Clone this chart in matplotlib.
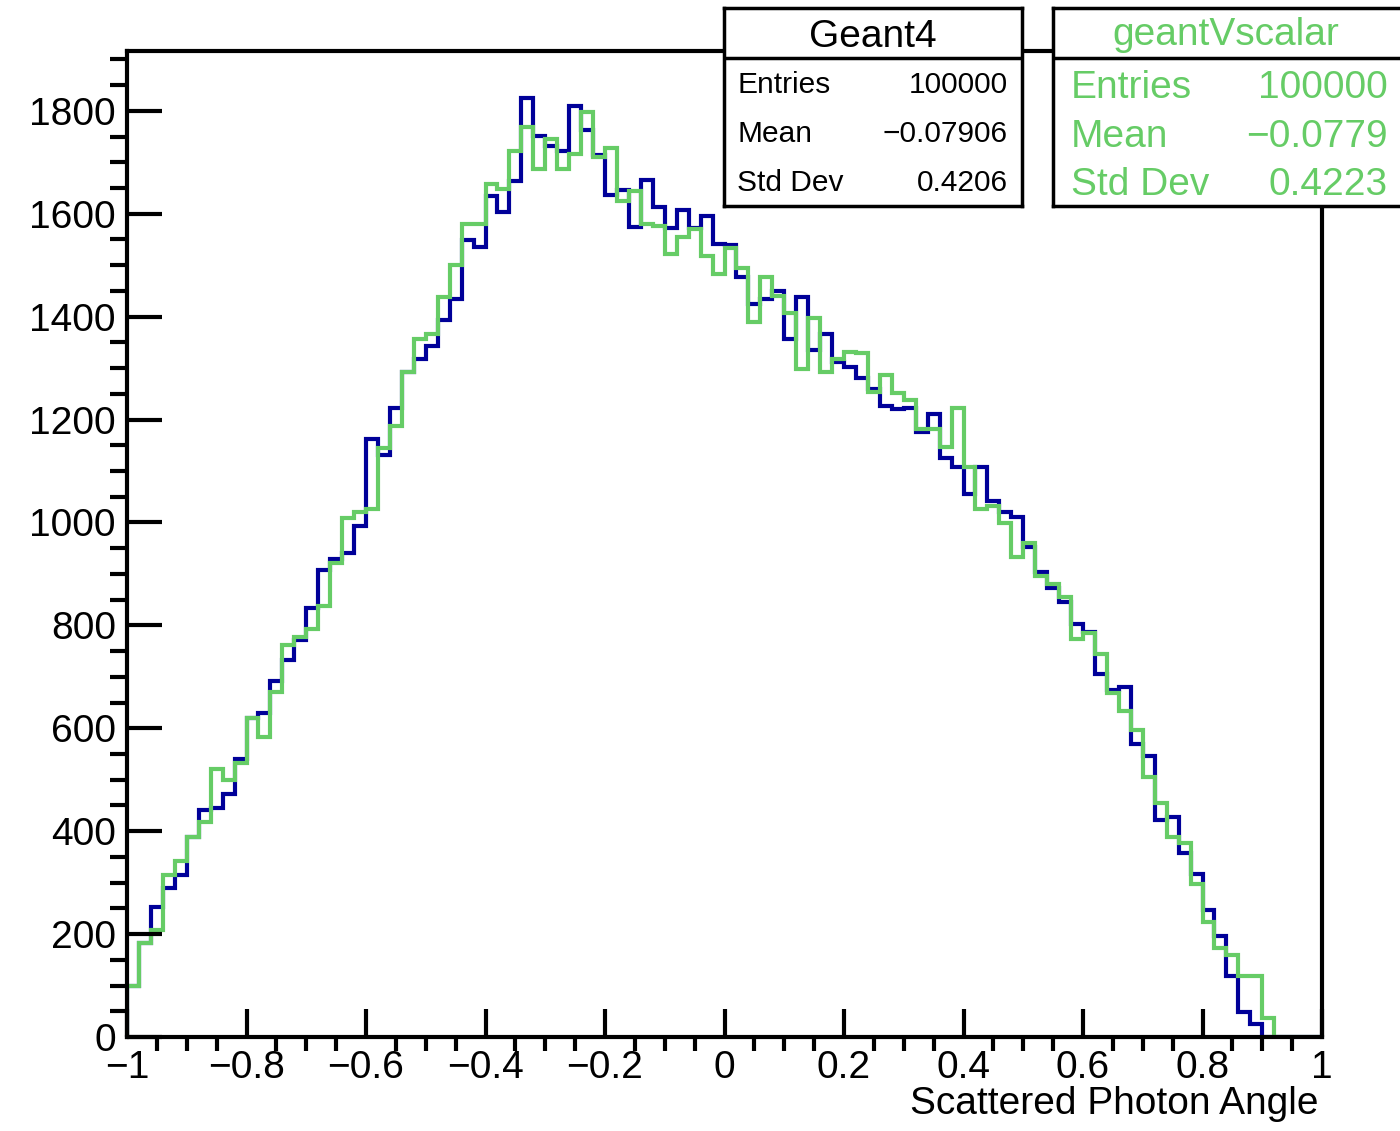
import numpy as np
import matplotlib
matplotlib.use("Agg")
import matplotlib.pyplot as plt
from matplotlib.ticker import MultipleLocator, FuncFormatter

plt.rcParams['font.family'] = ['Liberation Sans', 'DejaVu Sans']

# 100 bins from -1 to 1
bin_edges = np.linspace(-1, 1, 101)

geant4 = [100, 182, 253, 290, 314, 389, 441, 445, 472, 540,
          620, 630, 692, 733, 772, 833, 907, 929, 941, 993,
          1162, 1132, 1223, 1293, 1318, 1342, 1393, 1435, 1548, 1535,
          1634, 1603, 1663, 1825, 1752, 1732, 1721, 1809, 1763, 1715,
          1637, 1646, 1575, 1666, 1613, 1572, 1608, 1572, 1596, 1542,
          1540, 1477, 1424, 1434, 1449, 1356, 1439, 1336, 1367, 1311,
          1303, 1281, 1259, 1227, 1220, 1222, 1175, 1211, 1125, 1108,
          1056, 1108, 1041, 1021, 1011, 952, 903, 872, 846, 802,
          787, 705, 675, 681, 570, 547, 422, 428, 358, 317,
          247, 196, 119, 49, 25, 0, 0, 0, 0, 0]

geant_vs_scalar = [100, 182, 208, 314, 342, 389, 418, 521, 500, 532,
                   620, 584, 671, 762, 778, 793, 837, 922, 1008, 1020,
                   1026, 1145, 1188, 1293, 1357, 1366, 1439, 1501, 1580, 1580,
                   1658, 1648, 1721, 1768, 1687, 1746, 1686, 1717, 1797, 1711,
                   1728, 1625, 1645, 1580, 1577, 1522, 1555, 1570, 1518, 1483,
                   1533, 1495, 1390, 1477, 1440, 1408, 1298, 1397, 1293, 1317,
                   1332, 1330, 1254, 1286, 1251, 1238, 1181, 1181, 1146, 1223,
                   1108, 1026, 1032, 999, 933, 961, 895, 880, 855, 773,
                   785, 744, 668, 634, 596, 506, 454, 389, 378, 298,
                   224, 172, 159, 119, 119, 36, 0, 0, 0, 0]

stats_names = ["Entries", "Mean", "Std Dev"]
stats_geant4 = ["100000", "\u22120.07906", "0.4206"]
stats_scalar = ["100000", "\u22120.0779", "0.4223"]

blue = "#000099"
green = "#66cc66"

W, H = 1400, 1131


def px(x, y):
    return x / W, 1 - y / H


fig = plt.figure(figsize=(W / 100, H / 100), dpi=100)
ax = fig.add_axes([127 / W, 1 - 1037 / H, 1195 / W, 986 / H])

ax.stairs(geant4, bin_edges, color=blue, linewidth=3)
ax.stairs(geant_vs_scalar, bin_edges, color=green, linewidth=3)

ax.set_xlim(-1, 1)
ax.set_ylim(0, 1.05 * max(geant4))

for s in ax.spines.values():
    s.set_linewidth(3)

ax.xaxis.set_major_locator(MultipleLocator(0.2))
ax.xaxis.set_minor_locator(MultipleLocator(0.05))
ax.yaxis.set_major_locator(MultipleLocator(200))
ax.yaxis.set_minor_locator(MultipleLocator(50))
ax.xaxis.set_major_formatter(FuncFormatter(
    lambda v, p: ("%g" % round(v, 2)).replace("-", "\u2212")))

ax.tick_params(direction="in", top=False, right=False, labelsize=28, width=3)
ax.tick_params(axis="y", which="major", length=25, pad=8)
ax.tick_params(axis="y", which="minor", length=12.5, width=3)
ax.tick_params(axis="x", which="major", length=20, pad=9)
ax.tick_params(axis="x", which="minor", length=10, width=3)

fig.text(*px(1318, 1104), "Scattered Photon Angle", fontsize=28,
         ha="right", va="center")

# stats boxes
boxes = [
    (724, 1022, 873, 37, "Geant4", "black", stats_geant4, 21.5, 737, 1008, [85, 134, 183]),
    (1053, 1420, 1226, 35, "geantVscalar", green, stats_scalar, 28, 1071, 1388, [88, 137, 185]),
]
for x0, x1, xt, yt, title, col, vals, fs, xl, xr, ys in boxes:
    bax = fig.add_axes([x0 / W, 1 - 206 / H, (x1 - x0) / W, 198 / H])
    bax.set_xticks([])
    bax.set_yticks([])
    bax.set_facecolor("white")
    for s in bax.spines.values():
        s.set_linewidth(2.5)
    bax.axhline((206 - 58) / 198, color="black", linewidth=2.5)
    fig.text(*px(xt, yt), title, fontsize=28, color=col, ha="center", va="center")
    for name, val, y in zip(stats_names, vals, ys):
        fig.text(*px(xl, y), name, fontsize=fs, color=col, ha="left", va="center")
        fig.text(*px(xr, y), val, fontsize=fs, color=col, ha="right", va="center")

fig.savefig("out.png", dpi=100)
